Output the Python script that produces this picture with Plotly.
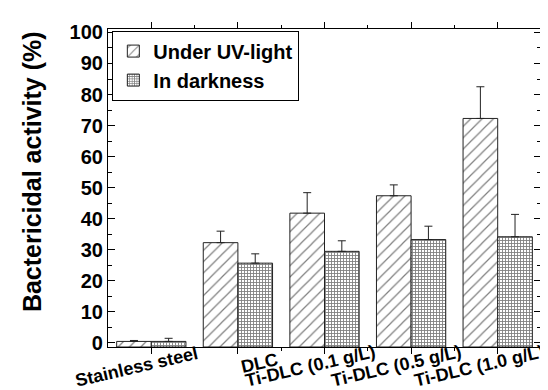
import plotly.graph_objects as go

categories = ["Stainless steel", "DLC", "Ti-DLC (0.1 g/L)", "Ti-DLC (0.5 g/L)", "Ti-DLC (1.0 g/L)"]
uv_values = [0.5, 32.3, 41.8, 47.4, 72.3]
uv_errors = [0.3, 3.7, 6.6, 3.5, 10.2]
dark_values = [0.5, 25.7, 29.5, 33.3, 34.2]
dark_errors = [1.0, 3.0, 3.4, 4.3, 7.2]
y_ticks = [0, 10, 20, 30, 40, 50, 60, 70, 80, 90, 100]

# styling
Y_MIN, Y_MAX = -1.3, 101.1
FONT = "Liberation Sans"
label_dx = [-15, 22, -14, -15, -18]
label_dy = [20, 16, 19, 19, 19]

xs = list(range(len(categories)))

fig = go.Figure()
fig.add_trace(go.Bar(
    x=xs, y=[v - Y_MIN for v in uv_values], base=Y_MIN,
    name="<b>Under UV-light</b>",
    marker=dict(color="white", line=dict(color="#222", width=1),
                pattern=dict(shape="/", size=8, solidity=0.15, fgcolor="black", bgcolor="white")),
    error_y=dict(type="data", symmetric=False, array=uv_errors, arrayminus=[0]*len(uv_errors),
                 color="#222", thickness=1, width=4),
))
fig.add_trace(go.Bar(
    x=xs, y=[v - Y_MIN for v in dark_values], base=Y_MIN,
    name="<b>In darkness</b>",
    marker=dict(color="white", line=dict(color="#222", width=1),
                pattern=dict(shape="+", size=3, solidity=0.5, fgcolor="black", bgcolor="white")),
    error_y=dict(type="data", symmetric=False, array=dark_errors, arrayminus=[0]*len(dark_errors),
                 color="#222", thickness=1, width=4),
))

annotations = []
for i, c in enumerate(categories):
    annotations.append(dict(
        x=i, xref="x", y=0, yref="paper", xshift=label_dx[i], yshift=-label_dy[i],
        text=f"<b>{c}</b>", showarrow=False, textangle=-13,
        xanchor="center", yanchor="middle",
        font=dict(family=FONT, size=18, color="black"),
    ))
annotations.append(dict(
    x=-0.1755, xref="paper", y=0.55, yref="paper",
    text="<b>Bactericidal activity (%)</b>", showarrow=False, textangle=-90,
    xanchor="center", yanchor="middle",
    font=dict(family=FONT, size=25, color="black"),
))

fig.update_layout(
    width=548, height=390,
    margin=dict(l=100, r=15, t=21, b=51),
    paper_bgcolor="white", plot_bgcolor="white",
    barmode="group", bargap=0.2, bargroupgap=0,
    font=dict(family=FONT, color="black"),
    showlegend=True,
    legend=dict(x=0.01, y=0.995, xanchor="left", yanchor="top",
                bordercolor="black", borderwidth=1, bgcolor="white",
                font=dict(family=FONT, size=20, color="black"),
                tracegroupgap=0, itemwidth=30),
    annotations=annotations,
    xaxis=dict(range=[-0.5, 4.5], tickvals=xs, showticklabels=False,
               ticks="outside", ticklen=6, tickcolor="black",
               showline=True, linecolor="black", linewidth=1.2, mirror="ticks",
               showgrid=False, zeroline=False,
               minor=dict(tickvals=[0.5, 1.5, 2.5, 3.5], ticks="outside", ticklen=3, tickcolor="black")),
    yaxis=dict(range=[Y_MIN, Y_MAX], tickvals=y_ticks,
               ticktext=[f"<b>{t}</b>" for t in y_ticks],
               ticks="inside", ticklen=7, tickcolor="black",
               tickfont=dict(family=FONT, size=20, color="black"),
               showline=True, linecolor="black", linewidth=1.2, mirror="ticks",
               showgrid=False, zeroline=False,
               minor=dict(dtick=5, tick0=0, ticks="inside", ticklen=4, tickcolor="black")),
)

fig.write_html("out.html")
